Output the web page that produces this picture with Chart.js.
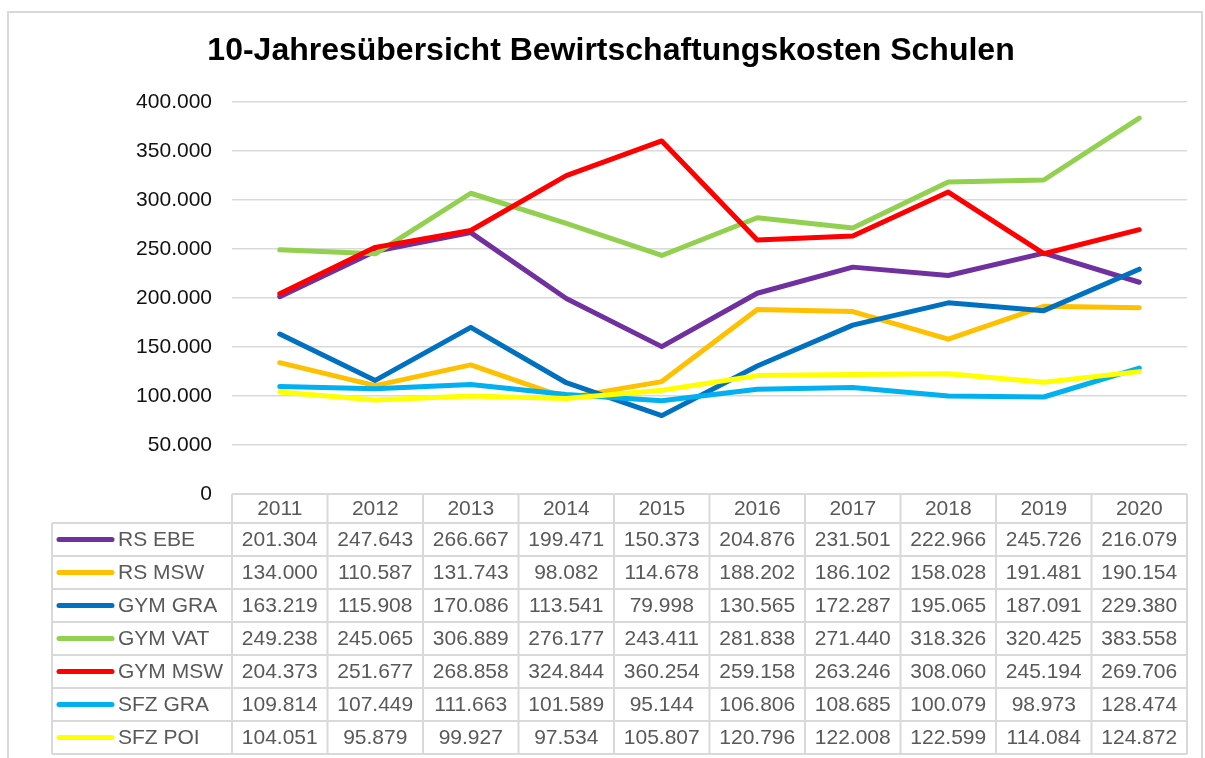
<!DOCTYPE html>
<html>
<head>
<meta charset="utf-8">
<script src="https://cdn.jsdelivr.net/npm/chart.js@4"></script>
<style>
  html, body { margin: 0; padding: 0; background: #fff; overflow: hidden; }
  #wrap { position: relative; width: 1205px; height: 758px; }
</style>
</head>
<body>
<div id="wrap"><canvas id="chart"></canvas></div>
<script>
const TITLE = "10-Jahresübersicht Bewirtschaftungskosten Schulen";
const YEARS = ["2011", "2012", "2013", "2014", "2015", "2016", "2017", "2018", "2019", "2020"];

const NAMES = ["RS EBE", "RS MSW", "GYM GRA", "GYM VAT", "GYM MSW", "SFZ GRA", "SFZ POI"];
const COLORS = ["#7030A0", "#FFC000", "#0070C0", "#92D050", "#FF0000", "#00B0F0", "#FFFF00"];

const rsEbe  = [201304, 247643, 266667, 199471, 150373, 204876, 231501, 222966, 245726, 216079];
const rsMsw  = [134000, 110587, 131743, 98082, 114678, 188202, 186102, 158028, 191481, 190154];
const gymGra = [163219, 115908, 170086, 113541, 79998, 130565, 172287, 195065, 187091, 229380];
const gymVat = [249238, 245065, 306889, 276177, 243411, 281838, 271440, 318326, 320425, 383558];
const gymMsw = [204373, 251677, 268858, 324844, 360254, 259158, 263246, 308060, 245194, 269706];
const sfzGra = [109814, 107449, 111663, 101589, 95144, 106806, 108685, 100079, 98973, 128474];
const sfzPoi = [104051, 95879, 99927, 97534, 105807, 120796, 122008, 122599, 114084, 124872];

const SERIES = [rsEbe, rsMsw, gymGra, gymVat, gymMsw, sfzGra, sfzPoi];

// 201304 -> "201.304"
const fmt = v => String(v).replace(/\B(?=(\d{3})+(?!\d))/g, ".");

const FONT = "Arial, 'Liberation Sans', sans-serif";
const GRID = "#d9d9d9";

// title, outer frame and the data table under the plot
const tablePlugin = {
  id: "dataTable",
  beforeDraw(chart) {
    const ctx = chart.ctx;
    ctx.save();
    ctx.strokeStyle = GRID;
    ctx.lineWidth = 2;
    ctx.strokeRect(8, 12, 1194, 800);
    ctx.restore();
  },
  afterDraw(chart) {
    const ctx = chart.ctx;
    const x = chart.scales.x;
    const area = chart.chartArea;
    const colW = (area.right - area.left) / YEARS.length;
    const headTop = area.bottom;
    const headH = 29;
    const rowH = 33;
    const labelLeft = 52;

    ctx.save();
    ctx.font = "bold 32px " + FONT;
    ctx.fillStyle = "#000";
    ctx.textAlign = "center";
    ctx.textBaseline = "middle";
    ctx.fillText(TITLE, 611, 51);

    ctx.strokeStyle = GRID;
    ctx.lineWidth = 2;
    const bodyTop = headTop + headH;
    const bodyBottom = bodyTop + rowH * NAMES.length;

    ctx.beginPath();
    ctx.moveTo(area.left, headTop);
    ctx.lineTo(area.right, headTop);
    ctx.moveTo(area.right, headTop);
    ctx.lineTo(area.right, bodyBottom);
    for (let i = 0; i < YEARS.length; i++) {
      const cx = area.left + colW * i;
      ctx.moveTo(cx, headTop);
      ctx.lineTo(cx, bodyBottom);
    }
    ctx.moveTo(labelLeft, bodyTop);
    ctx.lineTo(labelLeft, bodyBottom);
    for (let r = 0; r <= NAMES.length; r++) {
      const y = bodyTop + rowH * r;
      ctx.moveTo(labelLeft, y);
      ctx.lineTo(area.right, y);
    }
    ctx.stroke();

    ctx.font = "21px " + FONT;
    ctx.fillStyle = "#595959";
    ctx.textAlign = "center";
    YEARS.forEach((yr, i) => {
      ctx.fillText(yr, x.getPixelForValue(i), headTop + headH / 2 + 1);
    });

    NAMES.forEach((name, r) => {
      const cy = bodyTop + rowH * r + rowH / 2 + 1;
      ctx.strokeStyle = COLORS[r];
      ctx.lineWidth = 5;
      ctx.lineCap = "round";
      ctx.beginPath();
      ctx.moveTo(59, cy - 1);
      ctx.lineTo(112, cy - 1);
      ctx.stroke();
      ctx.fillStyle = "#595959";
      ctx.textAlign = "left";
      ctx.fillText(name, 118, cy);
      ctx.textAlign = "center";
      SERIES[r].forEach((v, i) => {
        ctx.fillText(fmt(v), x.getPixelForValue(i), cy);
      });
    });
    ctx.restore();
  }
};

new Chart(document.getElementById("chart"), {
  type: "line",
  data: {
    labels: YEARS,
    datasets: NAMES.map((name, i) => ({
      label: name,
      data: SERIES[i],
      borderColor: COLORS[i],
      backgroundColor: COLORS[i],
      borderWidth: 5,
      borderJoinStyle: "round",
      borderCapStyle: "round",
      pointRadius: 0,
      tension: 0,
      fill: false,
      order: NAMES.length - i
    }))
  },
  options: {
    responsive: true,
    maintainAspectRatio: false,
    animation: false,
    layout: { padding: { left: 0, right: 18, top: 102, bottom: 264 } },
    plugins: {
      legend: { display: false },
      title: { display: false },
      tooltip: { enabled: false }
    },
    scales: {
      x: {
        type: "category",
        offset: true,
        display: false
      },
      y: {
        min: 0,
        max: 400000,
        afterFit(scale) { scale.width = 232; },
        border: { display: false },
        grid: { color: GRID, lineWidth: 1.5, drawTicks: false },
        ticks: {
          stepSize: 50000,
          padding: 20,
          color: "#111",
          font: { family: FONT, size: 21 },
          callback: v => fmt(v)
        }
      }
    }
  },
  plugins: [tablePlugin]
});
</script>
</body>
</html>
